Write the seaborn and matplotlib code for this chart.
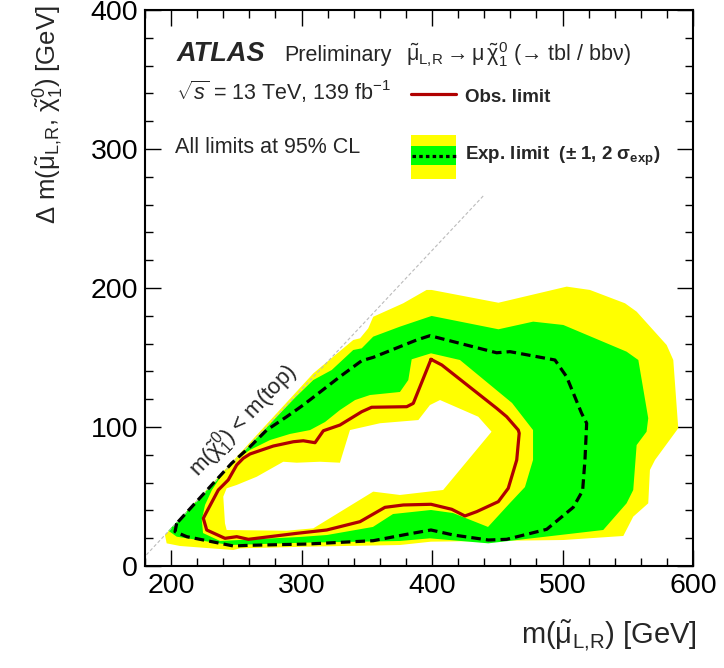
import numpy as np
import pandas as pd
import matplotlib
matplotlib.use("Agg")
import matplotlib.pyplot as plt
import seaborn as sns
from matplotlib.ticker import MultipleLocator
from matplotlib.patches import Rectangle
from matplotlib.lines import Line2D

# ---------------- data ----------------
# observed limit (closed contour)
obs_x = [399.2, 385.6, 380.6, 353.7, 346.1, 329.4, 316.7, 310.3, 301.3, 293.7, 278.3,
         260.5, 255.3, 250.3, 243.8, 236.2, 226.0, 224.7, 227.3, 241.3, 250.3, 259.2,
         296.3, 319.3, 344.8, 363.9, 378.0, 399.2, 415.1, 425.2, 434.2, 450.8, 458.4,
         464.9, 466.8, 466.1, 457.2, 449.6, 407.5, 399.2]
obs_y = [148.7, 117.0, 114.6, 114.2, 111.0, 101.4, 97.3, 88.7, 90.1, 89.4, 86.3,
         80.6, 77.5, 72.7, 61.9, 54.7, 36.7, 34.3, 25.9, 19.9, 21.1, 19.2,
         23.5, 25.9, 31.9, 42.2, 43.9, 44.4, 40.8, 36.0, 39.1, 46.3, 55.9,
         76.3, 95.5, 97.8, 107.4, 113.4, 144.6, 148.7]

# expected limit
exp_x = [204.3, 203.0, 212.0, 247.7, 260.5, 303.9, 354.9, 380.6, 399.2, 416.3, 443.1,
         457.2, 487.9, 508.2, 515.4, 517.2, 518.5, 514.6, 503.1, 494.2, 459.7, 449.5,
         398.4, 388.2, 354.9, 346.1, 329.4, 301.3, 288.6, 273.3, 260.5, 246.4, 232.3,
         218.3, 204.3]
exp_y = [30.7, 24.7, 21.1, 14.4, 14.9, 15.8, 18.2, 22.8, 25.9, 22.3, 18.7,
         19.2, 26.4, 42.2, 54.2, 76.3, 102.7, 109.9, 136.2, 148.2, 154.2, 153.4,
         165.7, 162.6, 150.1, 147.7, 136.2, 115.8, 107.4, 97.8, 85.8, 73.9, 59.5,
         45.1, 30.7]

# +2 sigma (outer edge of yellow band)
p2s_x = [195.3, 196.6, 206.8, 247.7, 252.8, 303.9, 375.4, 399.2, 500.6, 546.6, 554.2,
         565.7, 567.0, 570.9, 588.7, 584.9, 579.8, 556.8, 547.9, 521.0, 503.2, 450.9,
         399.7, 395.8, 377.9, 354.9, 351.1, 344.8, 339.6, 324.3, 309.0]
p2s_y = [22.3, 16.3, 14.4, 11.5, 12.7, 13.9, 15.1, 17.5, 18.7, 21.6, 35.5,
         45.1, 69.1, 76.3, 99.1, 148.2, 159.0, 183.0, 189.0, 198.6, 201.0, 189.4,
         198.6, 198.6, 189.0, 179.3, 171.0, 163.8, 162.6, 150.6, 138.6]

# +1 sigma (outer edge of green band)
p1s_x = [197.9, 204.3, 245.1, 303.9, 375.4, 398.4, 443.1, 531.2, 549.1, 554.2, 556.8,
         564.4, 565.7, 558.1, 549.1, 500.6, 477.5, 450.9, 399.7, 375.4, 354.9, 346.1,
         339.6, 323.1, 309.0, 295.0]
p1s_y = [25.4, 21.1, 15.1, 16.8, 18.0, 19.9, 16.3, 25.9, 45.1, 54.7, 87.0,
         96.6, 106.3, 148.2, 154.2, 173.4, 175.8, 170.3, 179.9, 172.2, 165.0, 156.6,
         155.4, 141.0, 133.8, 121.1]

# -1 sigma (inner edge of green band)
m1s_x = [399.2, 384.4, 381.8, 375.4, 352.4, 341.0, 329.4, 318.0, 306.5, 291.1, 275.8,
         260.5, 249.0, 239.0, 231.3, 226.0, 223.5, 224.5, 237.5, 298.8, 319.5, 354.7,
         370.1, 399.2, 416.1, 442.9, 459.7, 471.2, 477.4, 477.4, 461.3, 421.4]
m1s_y = [153.0, 148.7, 133.8, 125.2, 123.0, 119.4, 112.2, 103.6, 97.8, 95.0, 90.6,
         83.5, 76.3, 65.5, 54.7, 43.9, 33.1, 23.7, 18.0, 20.9, 22.3, 28.1,
         37.4, 40.3, 38.1, 28.1, 45.3, 56.8, 76.3, 97.8, 117.3, 148.2]

# -2 sigma (inner edge of yellow band)
m2s_x = [240.0, 242.6, 250.3, 265.6, 286.0, 296.3, 314.1, 329.4, 337.1, 360.1, 389.5,
         398.4, 406.1, 435.4, 445.6, 408.5, 375.4, 354.9, 309.0, 288.6, 242.6, 241.3]
m2s_y = [49.9, 55.9, 58.3, 64.2, 75.0, 74.3, 75.0, 74.3, 97.8, 102.7, 105.0,
         115.8, 119.4, 107.4, 96.6, 54.7, 51.1, 53.5, 27.1, 25.4, 25.9, 30.7]

# kinematic boundary m(chi) = m(top)
kin_x = [181, 440]
kin_y = [8, 267]

x_ticks = [200, 300, 400, 500, 600]
y_ticks = [0, 100, 200, 300, 400]

# ---------------- style ----------------
sns.set_theme(style="ticks")
plt.rcParams["font.family"] = ["Liberation Sans", "DejaVu Sans"]
plt.rcParams["mathtext.fontset"] = "custom"
plt.rcParams["mathtext.rm"] = "Liberation Sans"
plt.rcParams["mathtext.it"] = "Liberation Sans:italic"
plt.rcParams["mathtext.bf"] = "Liberation Sans:bold"
plt.rcParams["mathtext.default"] = "regular"

YELLOW = "#ffff00"
GREEN = "#00ff00"
RED = "#b00000"

fig = plt.figure(figsize=(7.24, 6.68), dpi=100)
ax = fig.add_axes([145 / 724, (668 - 566) / 668, 548 / 724, 556 / 668])

# bands
ax.fill(p2s_x, p2s_y, color=YELLOW, lw=0, zorder=1)
ax.fill(p1s_x, p1s_y, color=GREEN, lw=0, zorder=2)
ax.fill(m1s_x, m1s_y, color=YELLOW, lw=0, zorder=3)
ax.fill(m2s_x, m2s_y, color="white", lw=0, zorder=4)

# kinematic line
sns.lineplot(x=kin_x, y=kin_y, ax=ax, color="#bbbbbb", lw=0.8, sort=False,
             estimator=None, zorder=5)
ax.lines[-1].set_dashes((3, 2))

# expected
sns.lineplot(x=exp_x, y=exp_y, ax=ax, color="black", lw=2.3, sort=False,
             estimator=None, zorder=6)
ax.lines[-1].set_dashes((3, 1.6))

# observed
sns.lineplot(x=obs_x, y=obs_y, ax=ax, color=RED, lw=2.3, sort=False,
             estimator=None, zorder=7)

ax.set_xlim(180, 600)
ax.set_ylim(0, 400)
ax.set_xticks(x_ticks)
ax.set_yticks(y_ticks)
ax.xaxis.set_minor_locator(MultipleLocator(20))
ax.yaxis.set_minor_locator(MultipleLocator(20))
ax.tick_params(which="both", direction="in", top=True, right=True, colors="black",
               width=1.0)
ax.tick_params(which="major", length=11.5, labelsize=20.5, pad=5)
ax.tick_params(which="minor", length=6)
for s in ax.spines.values():
    s.set_linewidth(1.5)
    s.set_color("black")

LR = r"\mathrm{L{,}R}"
ax.set_xlabel(r"m($\tilde{\mu}_{" + LR + r"}$) [GeV]", fontsize=21, loc="right")
ax.xaxis.set_label_coords(1.007, -0.095)
ax.set_ylabel(r"$\Delta$ m($\tilde{\mu}_{" + LR + r"}$, $\tilde{\chi}^{0}_{1}$) [GeV]",
              fontsize=18.5, loc="top")
ax.yaxis.set_label_coords(-0.144, 1.009)

T = ax.transAxes
ax.text(0.0584, 0.908, "ATLAS", transform=T, fontsize=19.5, fontweight="bold",
        fontstyle="italic", va="baseline", ha="left", zorder=10)
ax.text(0.2536, 0.908, "Preliminary", transform=T, fontsize=15.5, va="baseline",
        ha="left", zorder=10)
ax.text(0.476,
        0.908,
        r"$\tilde{\mu}_{" + LR + r"} \rightarrow \mu\,\tilde{\chi}^{0}_{1}$ (→ tbl / bbν)",
        transform=T, fontsize=15.5, va="baseline", ha="left", zorder=10)
ax.text(0.0566, 0.838, r"$\sqrt{\mathit{s}}$ = 13 TeV, 139 fb$^{-1}$", transform=T,
        fontsize=15.5, va="baseline", ha="left", zorder=10)
ax.text(0.0547, 0.743, "All limits at 95% CL", transform=T, fontsize=15.5,
        va="baseline", ha="left", zorder=10)

# legend (manual)
ax.add_line(Line2D([0.485, 0.567], [0.849, 0.849], transform=T, color=RED, lw=2.3,
                   zorder=10))
ax.text(0.584, 0.835, "Obs. limit", transform=T, fontsize=13.5, fontweight="bold",
        va="baseline", ha="left", zorder=10)
ax.add_patch(Rectangle((0.485, 0.696), 0.083, 0.079, transform=T, color=YELLOW, lw=0,
                       zorder=10))
ax.add_patch(Rectangle((0.485, 0.721), 0.083, 0.034, transform=T, color=GREEN, lw=0,
                       zorder=11))
ax.add_line(Line2D([0.487, 0.567], [0.738, 0.738], transform=T, color="black", lw=2.3,
                   dashes=(1.1, 1.0), zorder=12))
ax.text(0.584, 0.730, r"Exp. limit  ($\pm$ 1, 2 $\sigma_{\mathbf{exp}}$)", transform=T,
        fontsize=13.5, fontweight="bold", va="baseline", ha="left", zorder=12)

# kinematic label
ax.text(255.5, 105, r"m($\tilde{\chi}^{0}_{1}$) < m(top)", fontsize=16, rotation=46.5,
        ha="center", va="center", rotation_mode="anchor", zorder=10)

fig.savefig("out.png", dpi=100)
